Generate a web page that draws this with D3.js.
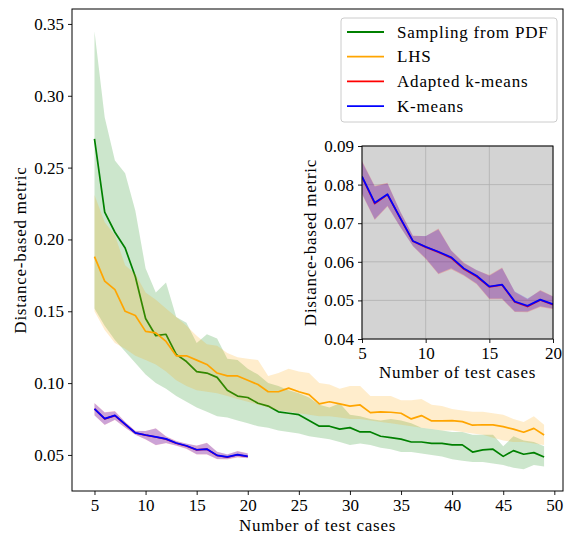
<!DOCTYPE html>
<html><head><meta charset="utf-8">
<script src="https://cdn.jsdelivr.net/npm/d3@7"></script>
<style>
body{margin:0;background:#fff;}
text{font-family:"Liberation Serif","Times New Roman",serif;fill:#000;}
</style></head><body>
<svg id="c" width="568" height="534"></svg>
<script>
// ---------- data ----------
const testCases = [5,6,7,8,9,10,11,12,13,14,15,16,17,18,19,20,21,22,23,24,25,26,27,28,29,30,31,32,33,34,35,36,37,38,39,40,41,42,43,44,45,46,47,48,49];
const pdfMean  = [0.270,0.219,0.205,0.194,0.174,0.145,0.133,0.134,0.120,0.115,0.108,0.107,0.104,0.095,0.091,0.090,0.086,0.084,0.080,0.079,0.078,0.074,0.070,0.070,0.068,0.069,0.066,0.066,0.063,0.062,0.061,0.059,0.059,0.058,0.058,0.057,0.057,0.052,0.0535,0.054,0.049,0.053,0.0505,0.0516,0.0485];
const pdfUpper = [0.345,0.285,0.255,0.246,0.220,0.180,0.163,0.170,0.146,0.142,0.128,0.134,0.131,0.117,0.116,0.110,0.106,0.100,0.098,0.095,0.093,0.090,0.085,0.083,0.086,0.078,0.077,0.075,0.074,0.075,0.074,0.072,0.069,0.068,0.067,0.066,0.066,0.064,0.064,0.064,0.056,0.063,0.060,0.059,0.056];
const pdfLower = [0.152,0.140,0.130,0.122,0.114,0.106,0.100,0.096,0.091,0.087,0.083,0.080,0.077,0.076,0.074,0.072,0.070,0.069,0.067,0.066,0.065,0.063,0.062,0.061,0.059,0.057,0.058,0.057,0.055,0.054,0.052,0.052,0.051,0.050,0.049,0.047,0.046,0.045,0.045,0.044,0.043,0.041,0.040,0.043,0.042];
const lhsMean  = [0.188,0.171,0.165,0.150,0.147,0.136,0.135,0.129,0.119,0.119,0.116,0.113,0.107,0.105,0.105,0.102,0.099,0.094,0.094,0.0965,0.094,0.092,0.0855,0.087,0.0855,0.084,0.0848,0.0795,0.080,0.0797,0.079,0.0751,0.0774,0.0737,0.0737,0.0739,0.0732,0.0707,0.071,0.0709,0.0697,0.068,0.0658,0.0685,0.0639];
const lhsUpper = [0.231,0.212,0.203,0.182,0.176,0.163,0.158,0.152,0.146,0.140,0.133,0.127,0.126,0.121,0.118,0.117,0.116,0.105,0.107,0.110,0.108,0.107,0.100,0.099,0.096,0.098,0.098,0.091,0.091,0.091,0.088,0.088,0.089,0.085,0.084,0.082,0.081,0.080,0.080,0.079,0.078,0.075,0.073,0.077,0.071];
const lhsLower = [0.150,0.137,0.128,0.124,0.119,0.116,0.113,0.108,0.102,0.098,0.095,0.094,0.093,0.091,0.089,0.087,0.085,0.083,0.081,0.080,0.079,0.078,0.077,0.077,0.076,0.075,0.075,0.074,0.073,0.072,0.071,0.070,0.069,0.068,0.067,0.067,0.066,0.065,0.064,0.062,0.060,0.059,0.059,0.058,0.057];

const kCases = [5,6,7,8,9,10,11,12,13,14,15,16,17,18,19,20];
const adaptedMean  = [0.0820,0.0751,0.0774,0.0713,0.0653,0.0638,0.0625,0.0610,0.0581,0.0562,0.0535,0.0540,0.0496,0.0484,0.0501,0.0489];
const adaptedUpper = [0.0862,0.0797,0.0805,0.0731,0.0668,0.0666,0.0686,0.0630,0.0598,0.0578,0.0566,0.0585,0.0522,0.0503,0.0527,0.0511];
const adaptedLower = [0.0775,0.0708,0.0743,0.0690,0.0640,0.0607,0.0568,0.0581,0.0564,0.0542,0.0503,0.0503,0.0470,0.0469,0.0483,0.0477];
const kmeansMean  = [0.0821,0.0753,0.0775,0.0714,0.0654,0.0639,0.0626,0.0612,0.0583,0.0564,0.0536,0.0541,0.0497,0.0486,0.0502,0.0490];
const kmeansUpper = [0.0859,0.0795,0.0803,0.0730,0.0667,0.0667,0.0684,0.0629,0.0596,0.0579,0.0564,0.0583,0.0523,0.0505,0.0525,0.0510];
const kmeansLower = [0.0777,0.0710,0.0745,0.0691,0.0641,0.0609,0.0570,0.0583,0.0566,0.0544,0.0505,0.0505,0.0471,0.0471,0.0485,0.0479];

const seriesNames = ["Sampling from PDF","LHS","Adapted k-means","K-means"];
const seriesColors = ["green","orange","red","blue"];
const mainXTicks = [5,10,15,20,25,30,35,40,45,50];
const mainYTicks = [0.05,0.10,0.15,0.20,0.25,0.30,0.35];
const insetXTicks = [5,10,15,20];
const insetYTicks = [0.04,0.05,0.06,0.07,0.08,0.09];

// ---------- build ----------
const svg = d3.select("#c");
const series = [
  {x:testCases, m:pdfMean, u:pdfUpper, l:pdfLower},
  {x:testCases, m:lhsMean, u:lhsUpper, l:lhsLower},
  {x:kCases, m:adaptedMean, u:adaptedUpper, l:adaptedLower},
  {x:kCases, m:kmeansMean, u:kmeansUpper, l:kmeansLower}
].map((s,i)=>({...s, name:seriesNames[i], color:seriesColors[i],
   pts:s.x.map((x,j)=>({x, m:s.m[j], u:s.u[j], l:s.l[j]}))}));

function drawPanel(g, box, xDom, yDom, xTicks, yTicks, opts){
  const x = d3.scaleLinear().domain(xDom).range([box.l, box.r]);
  const y = d3.scaleLinear().domain(yDom).range([box.b, box.t]);
  const cid = "clip"+opts.id;
  svg.append("clipPath").attr("id",cid).append("rect")
     .attr("x",box.l).attr("y",box.t).attr("width",box.r-box.l).attr("height",box.b-box.t);
  g.append("rect").attr("x",box.l).attr("y",box.t).attr("width",box.r-box.l).attr("height",box.b-box.t)
   .attr("fill",opts.bg);
  if(opts.grid){
    const gg = g.append("g").attr("stroke","#b0b0b0").attr("stroke-width",0.8);
    xTicks.forEach(t=>gg.append("line").attr("x1",x(t)).attr("x2",x(t)).attr("y1",box.t).attr("y2",box.b));
    yTicks.forEach(t=>gg.append("line").attr("y1",y(t)).attr("y2",y(t)).attr("x1",box.l).attr("x2",box.r));
  }
  const plot = g.append("g").attr("clip-path",`url(#${cid})`);
  const area = d3.area().x(d=>x(d.x)).y0(d=>y(d.l)).y1(d=>y(d.u));
  const line = d3.line().x(d=>x(d.x)).y(d=>y(d.m));
  opts.series.forEach(s=>{
    plot.append("path").datum(s.pts).attr("d",area).attr("fill",s.color).attr("fill-opacity",0.2).attr("stroke","none");
    plot.append("path").datum(s.pts).attr("d",line).attr("fill","none").attr("stroke",s.color)
        .attr("stroke-width",1.7).attr("stroke-linejoin","round");
  });
  // axes
  const ax = g.append("g").attr("transform",`translate(0,${box.b})`)
     .call(d3.axisBottom(x).tickValues(xTicks).tickSize(4).tickPadding(4).tickFormat(d3.format("d")));
  const ay = g.append("g").attr("transform",`translate(${box.l},0)`)
     .call(d3.axisLeft(y).tickValues(yTicks).tickSize(4).tickPadding(4).tickFormat(d3.format(".2f")));
  [ax,ay].forEach(a=>{
    a.select(".domain").remove();
    a.selectAll("line").attr("stroke","#000").attr("stroke-width",0.9);
    a.selectAll("text").attr("font-family",'"Liberation Serif",serif').attr("font-size",opts.fs).attr("fill","#000");
  });
  ax.selectAll("text").attr("dy","0.72em");
  g.append("rect").attr("x",box.l).attr("y",box.t).attr("width",box.r-box.l).attr("height",box.b-box.t)
   .attr("fill","none").attr("stroke","#000").attr("stroke-width",1);
  g.append("text").attr("x",(box.l+box.r)/2).attr("y",opts.xlabY).attr("text-anchor","middle")
   .attr("font-size",opts.fs).attr("letter-spacing","0.75px").text("Number of test cases");
  g.append("text").attr("transform",`translate(${opts.ylabX},${(box.t+box.b)/2}) rotate(-90)`)
   .attr("text-anchor","middle").attr("font-size",opts.fs).attr("letter-spacing","0.75px").text("Distance-based metric");
  return {x,y};
}

const mainBox = {l:72, r:563, t:9, b:491};
drawPanel(svg.append("g"), mainBox, [2.8,50.85], [0.0249,0.3604], mainXTicks, mainYTicks,
  {id:"main", bg:"#fff", grid:false, series:series, fs:17, xlabY:531, ylabX:26});

// legend
const lg = svg.append("g");
lg.append("rect").attr("x",341).attr("y",18).attr("width",216).attr("height",104).attr("rx",3)
  .attr("fill","#fff").attr("fill-opacity",0.8).attr("stroke","#cccccc").attr("stroke-width",1);
series.forEach((s,i)=>{
  const yy = 32 + i*24.7;
  lg.append("line").attr("x1",347).attr("x2",384).attr("y1",yy).attr("y2",yy)
    .attr("stroke",s.color).attr("stroke-width",1.8);
  lg.append("text").attr("x",397).attr("y",yy).attr("dy","0.33em").attr("font-size",17)
    .attr("letter-spacing","0.8px").text(s.name);
});

// inset
const insetBox = {l:362, r:553, t:146, b:339};
drawPanel(svg.append("g"), insetBox, [5,20], [0.04,0.09], insetXTicks, insetYTicks,
  {id:"inset", bg:"#d3d3d3", grid:true, series:series.slice(2), fs:17, xlabY:378, ylabX:316});
</script>
</body></html>
